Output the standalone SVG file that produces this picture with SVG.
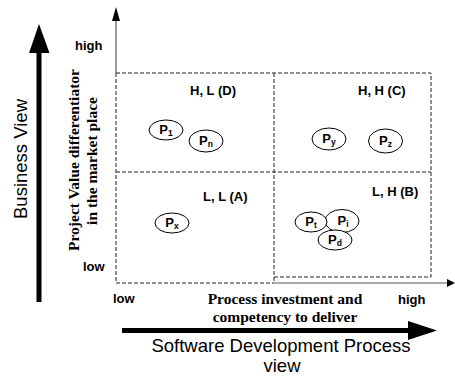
<svg xmlns="http://www.w3.org/2000/svg" width="455" height="377" viewBox="0 0 455 377">
  <style>
    .dash{fill:none;stroke:#222;stroke-width:1;stroke-dasharray:4 2}
    .axis{fill:none;stroke:#555;stroke-width:1.2}
    .head{fill:#000}
    .q{font-family:"Liberation Sans",Arial,sans-serif;font-weight:bold;font-size:13px;fill:#000}
    .p{font-family:"Liberation Sans",Arial,sans-serif;font-weight:bold;font-size:13px;fill:#000;text-anchor:middle}
    .sub{font-size:8.5px}
    .bub{fill:#fff;stroke:#000;stroke-width:1}
    .ser{font-family:"Liberation Serif","Times New Roman",serif;font-weight:bold;font-size:15.5px;fill:#000;text-anchor:middle}
    .big{font-family:"Liberation Sans",Arial,sans-serif;font-size:18.5px;fill:#000;text-anchor:middle}
  </style>
  <rect width="455" height="377" fill="#fff"/>

  <!-- quadrant grid -->
  <g id="grid">
    <path class="dash" d="M116,73 H431 V277 H274 M116,172 H431 M274,73 V283 M116,73 V283 H274"/>
  </g>

  <!-- axes and view arrows -->
  <g id="connectors">
    <line class="axis" x1="116" y1="73" x2="116" y2="20"/>
    <polygon class="head" points="112,21 120,21 116,7"/>
    <line class="axis" x1="274" y1="283" x2="448" y2="283"/>
    <polygon class="head" points="447,279 447,287 455,283"/>
    <rect x="36.5" y="52" width="5" height="250" fill="#000"/>
    <polygon class="head" points="29,53 49.5,53 39,24"/>
    <rect x="122" y="328" width="287" height="5" fill="#000"/>
    <polygon class="head" points="408,321 408,340 437,330.5"/>
  </g>

  <!-- axis labels -->
  <g id="axis-labels">
    <text class="q" x="75" y="50">high</text>
    <text class="q" x="83" y="271">low</text>
    <text class="q" x="113" y="303">low</text>
    <text class="q" x="398" y="304">high</text>
    <text class="ser" transform="translate(79,160) rotate(-90)">Project Value differentiator</text>
    <text class="ser" transform="translate(97,161) rotate(-90)">in the market place</text>
    <text class="ser" x="285" y="304">Process investment and</text>
    <text class="ser" x="285" y="322">competency to deliver</text>
    <text class="big" transform="translate(27,159) rotate(-90)">Business View</text>
    <text class="big" x="281" y="352">Software Development Process</text>
    <text class="big" x="282" y="372">view</text>
  </g>

  <!-- quadrant titles -->
  <g id="quadrant-D"><text class="q" x="190" y="95">H, L (D)</text></g>
  <g id="quadrant-C"><text class="q" x="358" y="95">H, H (C)</text></g>
  <g id="quadrant-A"><text class="q" x="203" y="201">L, L (A)</text></g>
  <g id="quadrant-B"><text class="q" x="372" y="196">L, H (B)</text></g>

  <!-- projects -->
  <g id="p1"><ellipse class="bub" cx="166" cy="130" rx="17" ry="10"/><text class="p" x="166" y="134">P<tspan class="sub" dy="2">1</tspan></text></g>
  <g id="pn"><ellipse class="bub" cx="206" cy="141" rx="17" ry="11"/><text class="p" x="206" y="145">P<tspan class="sub" dy="2">n</tspan></text></g>
  <g id="py"><ellipse class="bub" cx="329" cy="139" rx="17" ry="11"/><text class="p" x="329" y="143">P<tspan class="sub" dy="2">y</tspan></text></g>
  <g id="pz"><ellipse class="bub" cx="385.5" cy="141" rx="17" ry="12"/><text class="p" x="385.5" y="145">P<tspan class="sub" dy="2">z</tspan></text></g>
  <g id="px"><ellipse class="bub" cx="172" cy="223" rx="17" ry="10"/><text class="p" x="172" y="227">P<tspan class="sub" dy="2">x</tspan></text></g>
  <g id="pi"><ellipse class="bub" cx="342" cy="221" rx="17" ry="11.5"/><text class="p" x="343" y="225">P<tspan class="sub" dy="2">i</tspan></text></g>
  <g id="pt"><ellipse class="bub" cx="311" cy="222" rx="16" ry="10"/><text class="p" x="311" y="226">P<tspan class="sub" dy="2">t</tspan></text></g>
  <g id="pd"><ellipse class="bub" cx="335" cy="240" rx="17" ry="10"/><text class="p" x="335" y="244">P<tspan class="sub" dy="2">d</tspan></text></g>
</svg>
